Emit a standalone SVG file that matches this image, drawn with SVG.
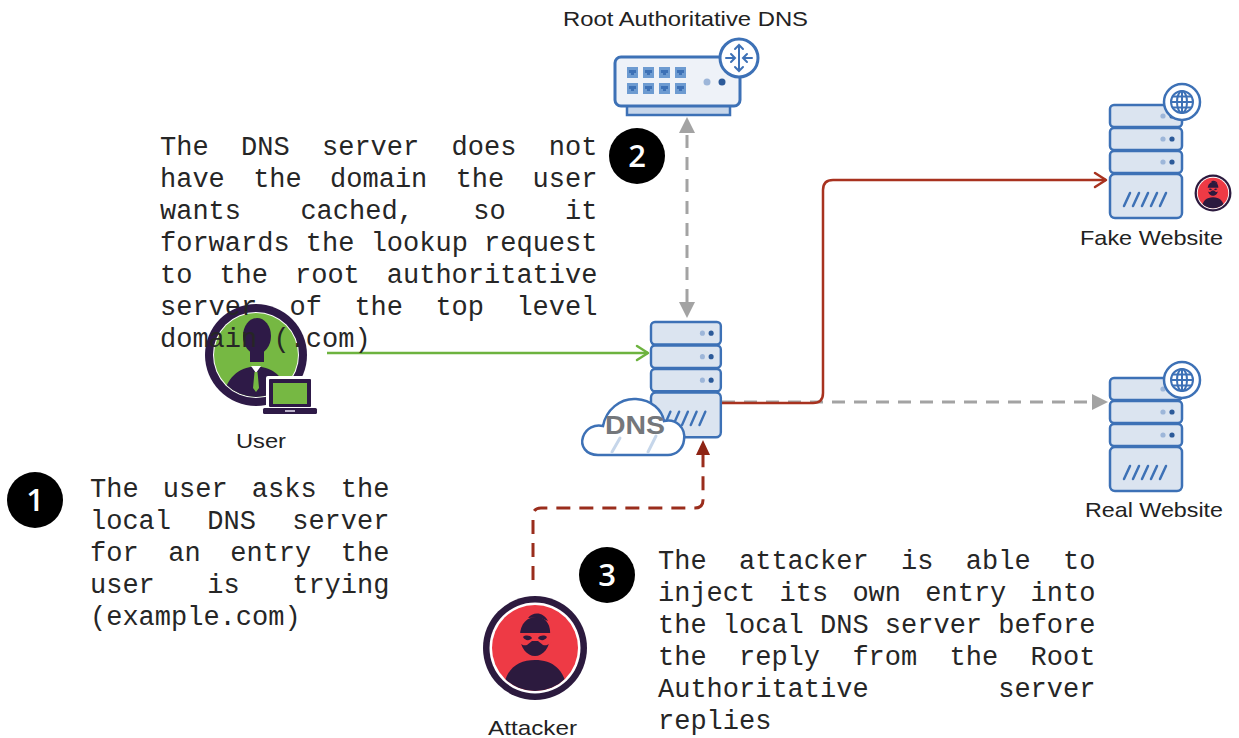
<svg xmlns="http://www.w3.org/2000/svg" xmlns:xlink="http://www.w3.org/1999/xlink" width="1239" height="738" viewBox="0 0 1239 738">
  <style>
    .mono { font-family: "Liberation Mono", "DejaVu Sans Mono", monospace; font-size: 27px; fill: #262626; }
    .label { font-family: "Liberation Sans", Arial, sans-serif; font-size: 21px; fill: #222; }
    .num { font-family: "Open Sans", "Liberation Sans", sans-serif; font-size: 31px; font-weight: 600; fill: #fff; text-anchor: middle; }
    .blue { stroke: #3d71b6; stroke-width: 2.5; }
    .unit { fill: #dbe4f0; stroke: #3d71b6; stroke-width: 2.5; }
  </style>
  <defs>
    <!-- rack server: three small units and a large drive bay -->
    <g id="server">
      <rect class="unit" x="0" y="0" width="72" height="22" rx="4"/>
      <rect class="unit" x="0" y="23" width="72" height="22" rx="4"/>
      <rect class="unit" x="0" y="46" width="72" height="22" rx="4"/>
      <rect class="unit" x="0" y="69" width="72" height="44" rx="5"/>
      <g fill="#9db6d9">
        <circle cx="53" cy="11" r="2.6"/><circle cx="53" cy="34" r="2.6"/><circle cx="53" cy="57" r="2.6"/>
      </g>
      <g fill="#2c5a99">
        <circle cx="62" cy="11" r="2.6"/><circle cx="62" cy="34" r="2.6"/><circle cx="62" cy="57" r="2.6"/>
      </g>
      <g stroke="#3d71b6" stroke-width="2.5" stroke-linecap="round">
        <line x1="14" y1="101" x2="20" y2="88"/>
        <line x1="23" y1="101" x2="29" y2="88"/>
        <line x1="32" y1="101" x2="38" y2="88"/>
        <line x1="41" y1="101" x2="47" y2="88"/>
        <line x1="50" y1="101" x2="56" y2="88"/>
      </g>
    </g>
    <!-- globe badge -->
    <g id="globe">
      <circle r="18" fill="#fff" stroke="#3d71b6" stroke-width="2.5"/>
      <g fill="none" stroke="#3d71b6" stroke-width="2">
        <circle r="11"/>
        <ellipse rx="5" ry="11"/>
        <line x1="0" y1="-11" x2="0" y2="11"/>
        <line x1="-11" y1="0" x2="11" y2="0"/>
        <path d="M-9.5 -5.5 H9.5 M-9.5 5.5 H9.5"/>
      </g>
    </g>
    <clipPath id="attackerClip"><circle r="43"/></clipPath>
    <!-- masked attacker avatar -->
    <g id="attackerFace">
      <circle r="52" fill="#2c1a3e"/>
      <circle r="45.5" fill="#fff"/>
      <circle r="43" fill="#ee3a45"/>
      <g clip-path="url(#attackerClip)" fill="#2c1a3e">
        <path d="M-32 45 C-31 22 -18 12 0 12 C18 12 31 22 32 45 Z"/>
        <path d="M-15 -12 C-15 -26 -6 -32 3 -31 C12 -30 16 -22 15 -12 C15 0 8 8 0 8 C-8 8 -15 0 -15 -12 Z"/>
        <path d="M-7 -30 C-2 -37 9 -36 13 -27 C6 -31 0 -31 -7 -30 Z"/>
      </g>
      <path d="M-17 -15 H17 V-9 C17 -4 12 -2 8 -3 L3 -7 H-3 L-8 -3 C-12 -2 -17 -4 -17 -9 Z" fill="#ee3a45"/>
      <path d="M-12 -11 C-10 -13 -5 -13 -3 -10 C-5 -7 -10 -7 -12 -11 Z M12 -11 C10 -13 5 -13 3 -10 C5 -7 10 -7 12 -11 Z" fill="#2c1a3e"/>
    </g>
    <clipPath id="userClip"><circle cx="256" cy="355" r="42"/></clipPath>
    <marker id="chevGreen" markerUnits="userSpaceOnUse" markerWidth="16" markerHeight="20" viewBox="0 0 16 20" refX="13" refY="10" orient="auto">
      <path d="M2 3 L13 10 L2 17" fill="none" stroke="#6db33f" stroke-width="2.5" stroke-linecap="round" stroke-linejoin="round"/>
    </marker>
    <marker id="chevRed" markerUnits="userSpaceOnUse" markerWidth="16" markerHeight="20" viewBox="0 0 16 20" refX="13" refY="10" orient="auto">
      <path d="M2 3 L13 10 L2 17" fill="none" stroke="#a8321f" stroke-width="2.5" stroke-linecap="round" stroke-linejoin="round"/>
    </marker>
    <marker id="triGray" markerUnits="userSpaceOnUse" markerWidth="16" markerHeight="16" viewBox="0 0 16 16" refX="0" refY="8" orient="auto-start-reverse">
      <path d="M0 0 L16 8 L0 16 Z" fill="#a3a3a3"/>
    </marker>
    <marker id="triDarkRed" markerUnits="userSpaceOnUse" markerWidth="16" markerHeight="16" viewBox="0 0 16 16" refX="0" refY="8" orient="auto">
      <path d="M0 1 L15 8 L0 15 Z" fill="#8e2414"/>
    </marker>
  </defs>

  <rect width="1239" height="738" fill="#fff"/>

  <!-- connectors -->
  <g id="connectors" fill="none" stroke-width="3">
    <path d="M327 353 H648" stroke="#6db33f" stroke-width="2.5" marker-end="url(#chevGreen)"/>
    <path d="M687 302 V133" stroke="#a3a3a3" stroke-dasharray="13 9" marker-start="url(#triGray)" marker-end="url(#triGray)"/>
    <path d="M722 402 H1092" stroke="#a3a3a3" stroke-dasharray="13 9" marker-end="url(#triGray)"/>
    <path d="M722 403 H813 Q823 403 823 393 V190 Q823 180 833 180 H1106" stroke="#a8321f" stroke-width="2.5" marker-end="url(#chevRed)"/>
    <path d="M533 580 V516 Q533 508 541 508 H695 Q703 508 703 500 V455" stroke="#9a2d1c" stroke-dasharray="14 9" marker-end="url(#triDarkRed)"/>
  </g>

  <!-- root authoritative DNS appliance -->
  <g id="root-dns">
    <rect x="627" y="105" width="103" height="10" fill="#c7d6ea" class="blue"/>
    <rect x="615" y="57" width="125" height="49" rx="6" fill="#eef2f8" stroke="#3d71b6" stroke-width="3"/>
    <g fill="#6d9bd1">
      <rect x="627" y="67" width="11" height="11"/><rect x="643" y="67" width="11" height="11"/>
      <rect x="659" y="67" width="11" height="11"/><rect x="675" y="67" width="11" height="11"/>
      <rect x="627" y="83" width="11" height="11"/><rect x="643" y="83" width="11" height="11"/>
      <rect x="659" y="83" width="11" height="11"/><rect x="675" y="83" width="11" height="11"/>
    </g>
    <g fill="#3d71b6">
      <path d="M629 70 h7 v3 h-2 v2 h-3 v-2 h-2 z"/><path d="M645 70 h7 v3 h-2 v2 h-3 v-2 h-2 z"/>
      <path d="M661 70 h7 v3 h-2 v2 h-3 v-2 h-2 z"/><path d="M677 70 h7 v3 h-2 v2 h-3 v-2 h-2 z"/>
      <path d="M629 86 h7 v3 h-2 v2 h-3 v-2 h-2 z"/><path d="M645 86 h7 v3 h-2 v2 h-3 v-2 h-2 z"/>
      <path d="M661 86 h7 v3 h-2 v2 h-3 v-2 h-2 z"/><path d="M677 86 h7 v3 h-2 v2 h-3 v-2 h-2 z"/>
    </g>
    <circle cx="707" cy="82" r="3.5" fill="#9db6d9"/>
    <circle cx="722" cy="82" r="3.5" fill="#2c5a99"/>
    <circle cx="739" cy="58" r="19" fill="#fff" stroke="#3d71b6" stroke-width="3"/>
    <g stroke="#3d71b6" stroke-width="2" fill="none" stroke-linecap="round">
      <path d="M726 58 H734 M752 58 H744 M739 46 V70"/>
      <path d="M731 54 L735 58 L731 62 M747 54 L743 58 L747 62 M735 49 L739 45 L743 49 M735 67 L739 71 L743 67"/>
    </g>
    <text class="label" x="563" y="26" textLength="245" lengthAdjust="spacingAndGlyphs">Root Authoritative DNS</text>
  </g>

  <!-- local DNS server -->
  <g id="local-dns">
    <use xlink:href="#server" transform="translate(651 322) scale(0.97 1.02)"/>
    <path d="M598 455 C586 455 580 446 583 437 C586 428 595 424 603 426 C606 410 620 398 636 399 C652 400 662 410 664 421 C676 418 686 428 684 440 C683 449 676 455 668 455 Z" fill="#fff" stroke="#3d71b6" stroke-width="2.5"/>
    <g stroke="#c6d6ea" stroke-width="3" stroke-linecap="round">
      <path d="M612 452 L620 438 M648 452 L656 436"/>
    </g>
    <text x="605" y="434" textLength="60" lengthAdjust="spacingAndGlyphs" font-family="Liberation Sans, Arial, sans-serif" font-size="25" font-weight="bold" fill="#74777b">DNS</text>
  </g>

  <!-- fake website -->
  <g id="fake-website">
    <use xlink:href="#server" x="1110" y="105"/>
    <use xlink:href="#globe" transform="translate(1182 102)"/>
    <use xlink:href="#attackerFace" transform="translate(1213 193) scale(0.355)"/>
    <text class="label" x="1080" y="245" textLength="143" lengthAdjust="spacingAndGlyphs">Fake Website</text>
  </g>

  <!-- real website -->
  <g id="real-website">
    <use xlink:href="#server" x="1110" y="378"/>
    <use xlink:href="#globe" transform="translate(1182 380)"/>
    <text class="label" x="1085" y="517" textLength="138" lengthAdjust="spacingAndGlyphs">Real Website</text>
  </g>

  <!-- user -->
  <g id="user">
    <circle cx="256" cy="355" r="51" fill="#2e1a47"/>
    <circle cx="256" cy="355" r="43" fill="#fff"/>
    <circle cx="256" cy="355" r="42" fill="#76b843"/>
    <g clip-path="url(#userClip)">
      <path d="M223 400 C225 380 236 368 256 366 C276 368 287 380 289 400 Z" fill="#2e1a47"/>
      <path d="M251 366 L256 373 L261 366 Z" fill="#fff"/>
      <path d="M254.5 372 L257.5 372 L259 388 L256 392 L253 388 Z" fill="#76b843"/>
    </g>
    <ellipse cx="257" cy="336" rx="14" ry="18" fill="#2e1a47"/>
    <rect x="250" y="348" width="14" height="14" fill="#2e1a47"/>
    <rect x="266" y="376" width="48" height="33" rx="2" fill="#fff"/>
    <rect x="269" y="379" width="42" height="28" rx="1" fill="#2e1a47"/>
    <rect x="273" y="383" width="34" height="21" fill="#76b843"/>
    <rect x="261" y="407" width="58" height="9" rx="2" fill="#fff"/>
    <rect x="263" y="408" width="54" height="6" rx="1.5" fill="#2e1a47"/>
    <rect x="285" y="410" width="10" height="2" fill="#b9b0c8"/>
    <text class="label" x="236" y="448" textLength="50" lengthAdjust="spacingAndGlyphs">User</text>
  </g>

  <!-- attacker -->
  <g id="attacker">
    <use xlink:href="#attackerFace" transform="translate(535 648)"/>
    <text class="label" x="488" y="735" textLength="89" lengthAdjust="spacingAndGlyphs">Attacker</text>
  </g>

  <!-- step 1 -->
  <g id="step-1">
    <circle cx="35" cy="500" r="28" fill="#000"/>
    <text class="num" x="35" y="511">1</text>
    <text class="mono" y="497"><tspan x="90">The</tspan><tspan x="162.8">user</tspan><tspan x="251.8">asks</tspan><tspan x="340.8">the</tspan></text>
    <text class="mono" y="529"><tspan x="90">local</tspan><tspan x="207.3">DNS</tspan><tspan x="292.2">server</tspan></text>
    <text class="mono" y="561"><tspan x="90">for</tspan><tspan x="168.2">an</tspan><tspan x="230.2">entry</tspan><tspan x="340.8">the</tspan></text>
    <text class="mono" y="593"><tspan x="90">user</tspan><tspan x="207.3">is</tspan><tspan x="292.2">trying</tspan></text>
    <text class="mono" x="90" y="625">(example.com)</text>
  </g>

  <!-- step 2 -->
  <g id="step-2">
    <circle cx="637" cy="156" r="28" fill="#000"/>
    <text class="num" x="637" y="167">2</text>
    <text class="mono" y="155"><tspan x="160">The</tspan><tspan x="241">DNS</tspan><tspan x="322">server</tspan><tspan x="451.6">does</tspan><tspan x="548.8">not</tspan></text>
    <text class="mono" y="187"><tspan x="160">have</tspan><tspan x="253.15">the</tspan><tspan x="330.1">domain</tspan><tspan x="455.65">the</tspan><tspan x="532.6">user</tspan></text>
    <text class="mono" y="219"><tspan x="160">wants</tspan><tspan x="300.4">cached,</tspan><tspan x="473.2">so</tspan><tspan x="565">it</tspan></text>
    <text class="mono" x="160" y="251">forwards the lookup request</text>
    <text class="mono" y="283"><tspan x="160">to</tspan><tspan x="219.4">the</tspan><tspan x="295">root</tspan><tspan x="386.8">authoritative</tspan></text>
    <text class="mono" y="315"><tspan x="160">server</tspan><tspan x="289.6">of</tspan><tspan x="354.4">the</tspan><tspan x="435.4">top</tspan><tspan x="516.4">level</tspan></text>
    <text class="mono" x="160" y="347">domain (.com)</text>
  </g>

  <!-- step 3 -->
  <g id="step-3">
    <circle cx="607" cy="575" r="28" fill="#000"/>
    <text class="num" x="607" y="586">3</text>
    <text class="mono" y="569"><tspan x="658">The</tspan><tspan x="739">attacker</tspan><tspan x="901">is</tspan><tspan x="965.8">able</tspan><tspan x="1063">to</tspan></text>
    <text class="mono" y="601"><tspan x="658">inject</tspan><tspan x="779.5">its</tspan><tspan x="852.4">own</tspan><tspan x="925.3">entry</tspan><tspan x="1030.6">into</tspan></text>
    <text class="mono" x="658" y="633">the local DNS server before</text>
    <text class="mono" y="665"><tspan x="658">the</tspan><tspan x="739">reply</tspan><tspan x="852.4">from</tspan><tspan x="949.6">the</tspan><tspan x="1030.6">Root</tspan></text>
    <text class="mono" y="697"><tspan x="658">Authoritative</tspan><tspan x="998.2">server</tspan></text>
    <text class="mono" x="658" y="729">replies</text>
  </g>
</svg>
